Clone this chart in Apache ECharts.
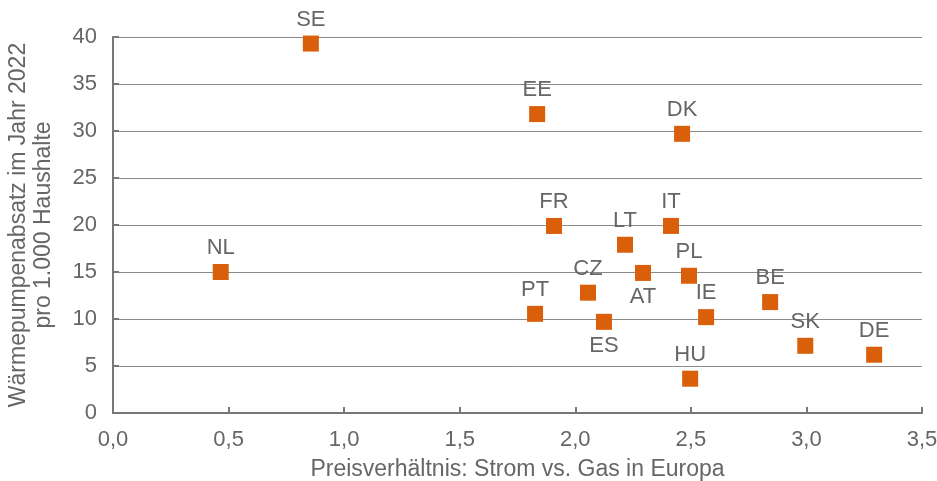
<!DOCTYPE html>
<html><head><meta charset="utf-8">
<script src="https://cdn.jsdelivr.net/npm/echarts@6/dist/echarts.min.js"></script>
<style>html,body{margin:0;padding:0;background:#fff}#c{width:937px;height:481px}</style>
</head><body><div id="c"></div>
<script>
const countries = ['SE','EE','DK','FR','IT','LT','NL','AT','PL','CZ','BE','PT','IE','ES','SK','DE','HU'];
const priceRatio = [0.856,1.835,2.462,1.908,2.414,2.215,0.466,2.293,2.492,2.055,2.843,1.826,2.566,2.124,2.995,3.293,2.497];
const heatPumpSales = [39.3,31.8,29.7,19.9,19.9,17.9,15.0,14.9,14.6,12.8,11.8,10.55,10.2,9.7,7.15,6.2,3.65];
const labelBelow = ['AT','ES'];
const xTicks = ['0,0','0,5','1,0','1,5','2,0','2,5','3,0','3,5'];

const txt = '#666666';
const font = 'Liberation Sans, Arial, Helvetica, sans-serif';
const fs = 22;
const data = countries.map((c,i)=>({
  value:[priceRatio[i], heatPumpSales[i]], name:c,
  label:{position: labelBelow.includes(c)?'bottom':'top'}
}));
const chart = echarts.init(document.getElementById('c'));
chart.setOption({
  animation:false,
  grid:{left:113,right:15,top:37,bottom:68,containLabel:false,outerBoundsMode:'none'},
  xAxis:{type:'value',min:0,max:3.5,interval:0.5,
    name:'Preisverhältnis: Strom vs. Gas in Europa',nameLocation:'middle',nameGap:45,
    nameTextStyle:{color:txt,fontSize:23,fontFamily:font},
    axisLine:{lineStyle:{color:'#777',width:2}},
    axisTick:{show:true,inside:true,length:6,lineStyle:{color:'#777',width:2}},
    splitLine:{show:false},
    axisLabel:{color:txt,fontSize:fs,fontFamily:font,margin:16,
      formatter:v=>xTicks[Math.round(v/0.5)]}},
  yAxis:{type:'value',min:0,max:40,interval:5,
    name:'Wärmepumpenabsatz im Jahr 2022\npro 1.000 Haushalte',nameLocation:'middle',nameGap:57,
    nameTextStyle:{color:txt,fontSize:23,fontFamily:font,lineHeight:25},
    axisLine:{show:true,lineStyle:{color:'#777',width:2}},
    axisTick:{show:true,inside:true,length:6,lineStyle:{color:'#777',width:2}},
    splitLine:{lineStyle:{color:'#8a8a8a',width:1}},
    axisLabel:{color:txt,fontSize:fs,fontFamily:font,margin:16}},
  series:[{type:'scatter',symbol:'rect',symbolSize:16,
    itemStyle:{color:'#D95F0A',opacity:1},
    label:{show:true,formatter:p=>p.name,color:txt,fontSize:fs,fontFamily:font,distance:5},
    data:data}]
});
</script></body></html>
